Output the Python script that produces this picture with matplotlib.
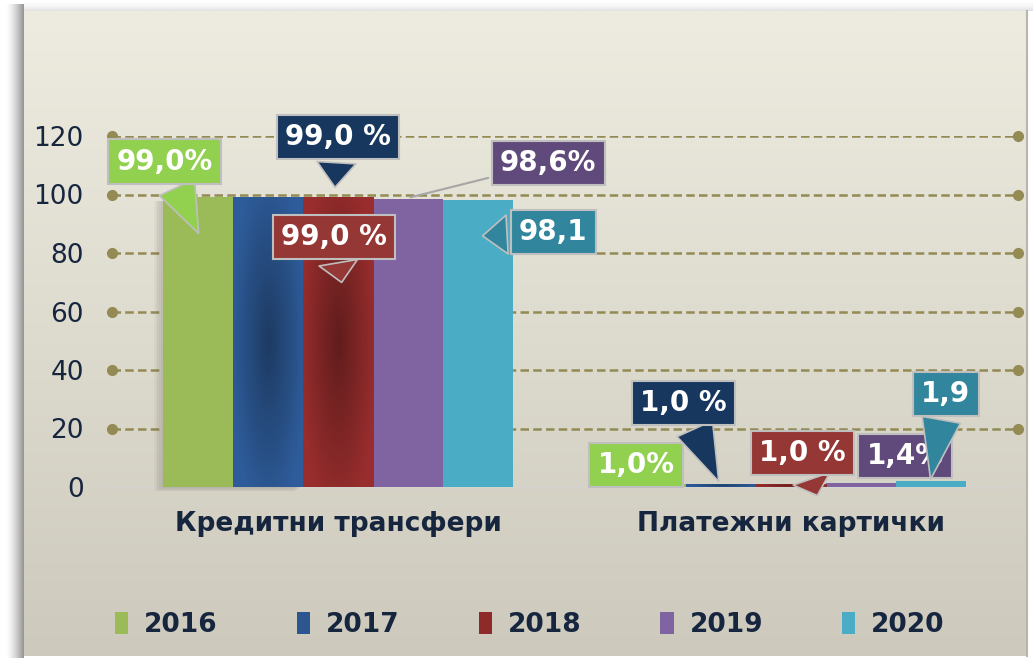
import numpy as np
import matplotlib.pyplot as plt
from matplotlib.colors import LinearSegmentedColormap, to_rgb
from matplotlib.patches import Rectangle

years = ['2016', '2017', '2018', '2019', '2020']
categories = ['Кредитни трансфери', 'Платежни картички']
credit = [99.0, 99.0, 99.0, 98.6, 98.1]
cards = [1.0, 1.0, 1.0, 1.4, 1.9]
credit_text = ['99,0%', '99,0 %', '99,0 %', '98,6%', '98,1']
cards_text = ['1,0%', '1,0 %', '1,0 %', '1,4%', '1,9']

bar_colors = ['#9BBB59', '#2B5690', '#8E2A2A', '#8064A2', '#4BACC6']
box_colors = ['#92D050', '#17375E', '#953735', '#604A7B', '#31859C']
navy = '#17263F'

# callout layout (box centre, pointer tip, pointer style) in data coords
credit_box = [(-0.382, 111.2), (0.0, 119.7), (-0.009, 85.5), (0.464, 110.8), (0.475, 87.2)]
credit_tip = [(-0.305, 85.8), (-0.007, 101.5), (0.009, 69.0), (0.154, 98.8), (0.313, 85.8)]
credit_kind = ['wedge', 'wedge', 'wedge', 'line', 'wedge']
cards_box = [(0.658, 7.5), (0.762, 28.7), (1.026, 11.6), (1.252, 10.6), (1.342, 31.8)]
cards_tip = [None, (0.843, 1.0), (1.06, -3.8), None, (1.307, 1.7)]
cards_kind = [None, 'wedge', 'wedge', None, 'wedge']

fig = plt.figure(figsize=(10.33, 6.58), dpi=100)
fig.patch.set_facecolor('white')

# background panel with a soft shadow on the left and top
bg = fig.add_axes([0, 0, 1, 1], zorder=-5)
bg.axis('off')
sx = np.clip((np.linspace(0, 24, 48) - 6) / 18, 0, 1) ** 1.5
bg.imshow(np.dstack([1 - 0.42 * sx[None, :]] * 3), extent=[0, 24, 658, 4],
          aspect='auto', interpolation='bicubic')
sy = np.clip(np.linspace(0, 11, 22) / 11, 0, 1) ** 2
bg.imshow(np.dstack([1 - 0.12 * sy[:, None]] * 3), extent=[24, 1033, 11, 0],
          aspect='auto', interpolation='bicubic')
top = np.array(to_rgb('#EEEBE0'))
bot = np.array(to_rgb('#CDCABD'))
t = np.linspace(0, 1, 256)[:, None]
grad = top[None, :] * (1 - t) + bot[None, :] * t
bg.imshow(grad[:, None, :], extent=[24, 1027, 656, 11], aspect='auto')
bg.plot([1027, 1027], [11, 656], color='#B8B6AC', lw=1.5)
bg.set_xlim(0, 1033)
bg.set_ylim(658, 0)

ax = fig.add_axes([111.5 / 1033, 171 / 658, 906 / 1033, 351 / 658])
ax.set_facecolor('none')

x = np.arange(len(categories))
n = len(years)
w = 0.773 / n

for y in range(20, 121, 20):
    ax.plot([-0.5, 1.5], [y, y], ls=(0, (3.4, 1.7)), color='#948A54', lw=1.8, zorder=0.5)
    ax.plot([-0.5, 1.5], [y, y], 'o', ms=7, color='#948A54', clip_on=False, zorder=0.6)
ax.plot([-0.53, 1.5], [0, 0], color='#D4D3CC', lw=2, clip_on=False, zorder=0.4)

# soft shadow on the left of the tall group
left = x[0] - 2.5 * w
for k in range(5):
    d = 0.004 * (k + 1)
    ax.add_patch(Rectangle((left - d, -0.3 * (k + 1)), 2 * w, credit[0] - 1 + 0.3 * k,
                           fc='#5E5A4C', ec='none', alpha=0.05, zorder=1.5, clip_on=False))

handles = []
for i in range(n):
    vals = [credit[i], cards[i]]
    bars = ax.bar(x + (i - 2) * w, vals, w, color=bar_colors[i], zorder=2, linewidth=0)
    handles.append(bars[0])
    if i in (1, 2):
        base = np.array(to_rgb(bar_colors[i]))
        cmap = LinearSegmentedColormap.from_list('s', [base * 0.68, np.clip(base * 1.08, 0, 1)])
        for b in bars:
            xx, yy = np.meshgrid(np.linspace(-1, 1, 60), np.linspace(-1, 1, 120))
            r = np.sqrt((xx * 0.9) ** 2 + (yy * 0.8) ** 2)
            im = ax.imshow(np.clip(r, 0, 1), cmap=cmap, extent=[b.get_x(), b.get_x() + b.get_width(), 0, b.get_height()],
                           aspect='auto', zorder=2.1, vmin=0, vmax=1)
            im.set_clip_path(b)


def callout(text, box, tip, kind, color):
    props = None
    if kind == 'wedge':
        props = dict(arrowstyle='wedge,tail_width=1.4,shrink_factor=0.5', fc=color, ec='#BFBFBF', lw=1.2)
    elif kind == 'line':
        props = dict(arrowstyle='-', color='#A6A6A6', lw=1.5)
    ax.annotate(text, xy=tip if tip else box, xytext=box, ha='center', va='center',
                color='white', fontsize=20, fontweight='bold',
                bbox=dict(boxstyle='square,pad=0.3', fc=color, ec='#BFBFBF', lw=1.5),
                arrowprops=props, annotation_clip=False, zorder=6)


for i in range(n):
    callout(credit_text[i], credit_box[i], credit_tip[i], credit_kind[i], box_colors[i])
for i in range(n):
    callout(cards_text[i], cards_box[i], cards_tip[i], cards_kind[i], box_colors[i])

ax.set_xlim(-0.5, 1.5)
ax.set_ylim(0, 120)
ax.set_yticks(range(0, 121, 20))
ax.set_xticks(x, categories)
ax.tick_params(axis='y', length=0, pad=20, labelsize=19, labelcolor=navy)
ax.tick_params(axis='x', length=0, pad=17, labelsize=19, labelcolor=navy)
for lab in ax.get_xticklabels():
    lab.set_fontweight('bold')
for s in ax.spines.values():
    s.set_visible(False)

fig.legend(handles, years, loc='center', bbox_to_anchor=(0.513, 0.05), ncol=5, frameon=False,
           prop=dict(weight='bold', size=19), labelcolor=navy, handlelength=0.5, handleheight=0.9,
           handletextpad=0.6, columnspacing=3.0)

fig.savefig('out.png', dpi=100)
